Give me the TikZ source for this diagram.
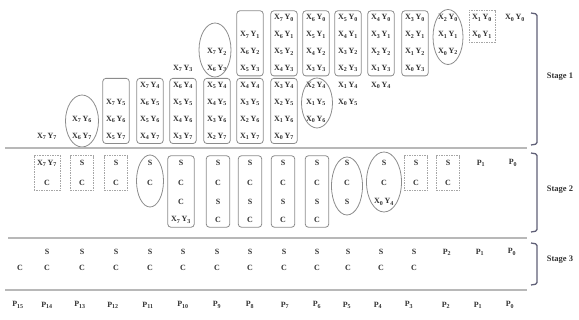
\documentclass[tikz,border=0pt]{standalone}
\usepackage{fontspec}
\setmainfont{Liberation Serif}
\usetikzlibrary{fit,shapes.geometric}
\newcommand{\XYp}[2]{X\textsubscript{#1}\,Y\textsubscript{#2}}
\newcommand{\Pk}[1]{P\textsubscript{#1}}
\definecolor{brkcol}{RGB}{95,95,118}
\definecolor{txtcol}{RGB}{50,50,50}
\begin{document}
\begin{tikzpicture}[x=1pt,y=-1pt,
  item/.style={font=\fontsize{8}{9}\selectfont\bfseries, text=txtcol, inner sep=0pt, minimum width=22pt, minimum height=10pt},
  sitem/.style={item, minimum width=19pt},
  grp/.style={draw=black!45, line width=0.8pt, rounded corners=3pt, inner sep=2pt},
  hagrp/.style={draw=black!35, dashed, dash pattern=on 1.5pt off 1pt, line width=0.6pt, inner sep=2pt},
  fagrp/.style={ellipse, draw=black!45, line width=0.8pt, inner sep=0pt},
  sepline/.style={draw=black!28, line width=1.3pt},
  brk/.style={draw=brkcol, line width=1.3pt, rounded corners=1.5pt},
  lbl/.style={font=\fontsize{8.5}{10}\selectfont\bfseries, text=txtcol, inner sep=0pt}]
\useasboundingbox (0,0) rectangle (579,320);

% ---------------- Stage 1 ----------------
\foreach \i in {0,...,7}{\foreach \j in {0,...,7}{%
  \pgfmathtruncatemacro\k{\i+\j}%
  \pgfmathsetmacro\xx{{515,482,448,415,381,348,316,284,250,217,183,150,116,82,47,18}[\k]}%
  \node[item] (a\i\j) at (\xx,{18+16.9*\j}) {\XYp{\i}{\j}};
}}
% groups
\node[hagrp, fit=(a10)(a01)] (g1p1) {};
\node[fagrp, minimum width=30pt, minimum height=55pt] (g1p2) at (448,37) {};
\node[grp, fit=(a30)(a03)] (g1p3) {};
\node[grp, fit=(a40)(a13)] (g1p4) {};
\node[grp, fit=(a50)(a23)] (g1p5) {};
\node[grp, fit=(a60)(a33)] (g1p6a) {};
\node[fagrp, minimum width=31pt, minimum height=50pt] (g1p6b) at (317,103) {};
\node[grp, fit=(a70)(a43)] (g1p7a) {};
\node[grp, fit=(a34)(a07)] (g1p7b) {};
\node[grp, fit=(a71)(a53)(a71.north |- a70.north)] (g1p8a) {};
\node[grp, fit=(a44)(a17)] (g1p8b) {};
\node[fagrp, minimum width=32pt, minimum height=54pt] (g1p9a) at (215,50) {};
\node[grp, fit=(a54)(a27)] (g1p9b) {};
\node[grp, fit=(a64)(a37)] (g1p10) {};
\node[grp, fit=(a74)(a47)] (g1p11) {};
\node[grp, fit=(a75)(a57)(a75.north |- a74.north)] (g1p12) {};
\node[fagrp, minimum width=33pt, minimum height=52pt] (g1p13) at (82,121) {};

% ---------------- Stage 2 ----------------
\node[item] (b14a) at (47,163) {\XYp77};
\node[item] (b14b) at (47,183) {C};
\node[hagrp, fit=(b14a)(b14b)] (g2p14) {};
\foreach \c/\x in {13/82,12/116,3/416,2/448}{
  \node[sitem] (b\c a) at (\x,163) {S};
  \node[sitem] (b\c b) at (\x,183) {C};
  \node[hagrp, fit=(b\c a)(b\c b)] (g2p\c) {};
}
\node[sitem] (b11a) at (150,163) {S};
\node[sitem] (b11b) at (150,183) {C};
\node[fagrp, minimum width=27pt, minimum height=52pt] (g2p11) at (150,181) {};
\node[sitem] (b10a) at (181,163) {S};
\node[sitem] (b10b) at (181,183) {C};
\node[sitem] (b10c) at (181,202) {C};
\node[item] (b10d) at (181,220) {\XYp73};
\node[grp, fit=(b10a)(b10d)] (g2p10) {};
\foreach \c/\x in {9/218,8/250,7/283,6/317}{
  \node[sitem] (b\c a) at (\x,163) {S};
  \node[sitem] (b\c b) at (\x,183) {C};
  \node[sitem] (b\c c) at (\x,202) {S};
  \node[sitem] (b\c d) at (\x,220) {C};
  \node[grp, fit=(b\c a)(b\c d)] (g2p\c) {};
}
\node[sitem] (b5a) at (347,163) {S};
\node[sitem] (b5b) at (347,183) {C};
\node[sitem] (b5c) at (347,202) {S};
\node[fagrp, minimum width=31pt, minimum height=58pt] (g2p5) at (347,186) {};
\node[sitem] (b4a) at (384,163) {S};
\node[sitem] (b4b) at (384,183) {C};
\node[item] (b4c) at (384,202) {\XYp04};
\node[fagrp, minimum width=35pt, minimum height=60pt] (g2p4) at (384,182) {};
\node[item] (b1) at (481,163) {\Pk1};
\node[item] (b0) at (513,163) {\Pk0};

% ---------------- Stage 3 ----------------
\node[item] (c15b) at (20,268) {C};
\foreach \c/\x in {14/47,13/82,12/116,11/150,10/183,9/217,8/250,7/284,6/317,5/348,4/381,3/414}{
  \node[item] (c\c a) at (\x,252) {S};
  \node[item] (c\c b) at (\x,268) {C};
}
\node[item] (c2) at (447,252) {\Pk2};
\node[item] (c1) at (480,252) {\Pk1};
\node[item] (c0) at (512,252) {\Pk0};

% ---------------- Result ----------------
\foreach \c/\x in {15/18,14/47,13/80,12/113,11/148,10/183,9/217,8/250,7/285,6/317,5/347,4/378,3/409,2/446,1/478,0/510}{
  \node[item] (p\c) at (\x,305) {\Pk{\c}};
}

% separators
\draw[sepline] (5,148) -- (527,148);
\draw[sepline] (8,238) -- (527,238);
\draw[sepline] (5,290) -- (527,290);

% brackets
\draw[brk] (531,13) -- (537,14) -- (537,144) -- (531,145);
\draw[brk] (531,153) -- (537,154) -- (537,231) -- (531,232);
\draw[brk] (531,243) -- (537,244) -- (537,284) -- (531,285);
\node[lbl] (st1) at (560,77) {Stage 1};
\node[lbl] (st2) at (560,190) {Stage 2};
\node[lbl] (st3) at (560,260) {Stage 3};
\end{tikzpicture}
\end{document}
